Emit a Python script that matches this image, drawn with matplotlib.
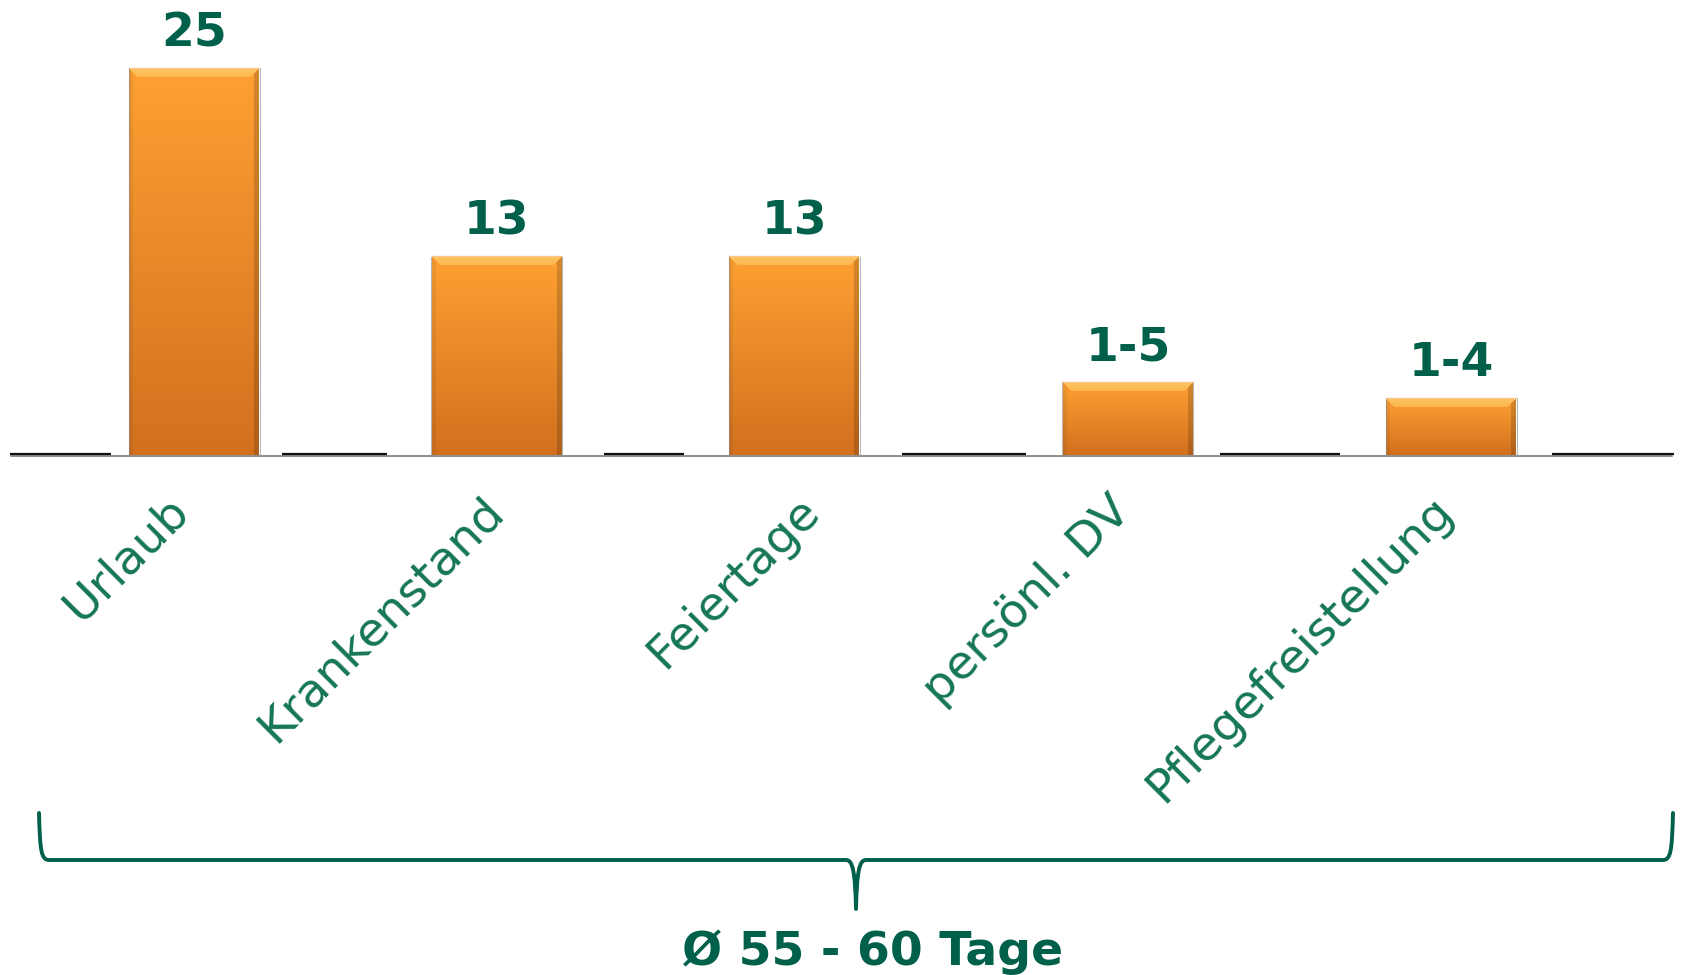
import matplotlib
matplotlib.use('Agg')
import matplotlib.pyplot as plt
import numpy as np
from matplotlib.path import Path
from matplotlib.patches import PathPatch
from matplotlib.colors import to_rgb

# ---------------- data ----------------
categories = ['Urlaub', 'Krankenstand', 'Feiertage', 'persönl. DV', 'Pflegefreistellung']
values = [25, 13, 13, 5, 4]
value_labels = ['25', '13', '13', '1-5', '1-4']
total_label = 'Ø 55 - 60 Tage'

# ---------------- layout ----------------
W, H = 1683, 975
DPI = 100
bar_x = [194.5, 496.7, 794.5, 1128, 1451.5]   # bar centres (px)
label_x = [166, 481, 797, 1108, 1430]         # rotated label anchors (px)
bar_w = 130
base_px = 455
px_per_unit = 15.7
y_min = 0.37
y_max = y_min + base_px / px_per_unit

GREEN_DARK = '#00604A'
GREEN_CAT = '#157656'

fig = plt.figure(figsize=(W / DPI, H / DPI), dpi=DPI)
fig.patch.set_facecolor('white')

ax = fig.add_axes([0, (H - base_px) / H, 1, base_px / H])
ax.axis('off')

bars = ax.bar(bar_x, values, width=bar_w, bottom=0, color='none', edgecolor='none')

top_c = np.array(to_rgb('#FFA033'))
bot_c = np.array(to_rgb('#D2701E'))
hi_c = np.array(to_rgb('#FFCF6E'))

for rect, v in zip(bars, values):
    x0 = rect.get_x()
    x1 = x0 + rect.get_width()
    y1 = rect.get_height()
    hp = int(round((y1 - y_min) * px_per_unit))
    wp = int(round(bar_w))
    r = np.arange(hp)[:, None] * np.ones((1, wp))
    c = np.ones((hp, 1)) * np.arange(wp)[None, :]
    t = (r / max(hp - 1, 1))[..., None]
    img = top_c * (1 - t) + bot_c * t
    dl = c
    dr = wp - 1 - c
    dt = r
    b = 9
    top_bev = (dt < b) & (dt <= dl) & (dt <= dr)
    amt = (0.75 - 0.25 * dt / b)[..., None]
    img = np.where(top_bev[..., None], img * (1 - amt) + hi_c * amt, img)
    right_bev = (dr < 5) & (dr < dt)
    img = np.where(right_bev[..., None], img * 0.84, img)
    left_bev = (dl < 4) & (dl < dt)
    img = np.where(left_bev[..., None], img * 0.94, img)
    ax.imshow(np.clip(img, 0, 1), extent=(x0, x1, y_min, y1), aspect='auto',
              origin='upper', zorder=2, interpolation='bilinear')
    ax.plot([x0 - 0.5, x0 - 0.5], [y_min, y1], color='#888888', lw=0.8, alpha=0.6, zorder=3)
    ax.plot([x1 + 0.5, x1 + 0.5], [y_min, y1], color='#888888', lw=0.8, alpha=0.6, zorder=3)
    ax.plot([x0, x1], [y1 + 0.03, y1 + 0.03], color='#F5C9A0', lw=1.0, alpha=0.7, zorder=3)

for x, v, lab in zip(bar_x, values, value_labels):
    ax.annotate(lab, xy=(x, v), xytext=(0, 22 * 72 / DPI), textcoords='offset points',
                ha='center', va='baseline', fontsize=34, fontweight='bold',
                color=GREEN_DARK, family='DejaVu Sans', zorder=5)

ax.set_xlim(0, W)
ax.set_ylim(y_min, y_max)

# ---------------- overlay in pixel coords ----------------
ov = fig.add_axes([0, 0, 1, 1])
ov.set_xlim(0, W)
ov.set_ylim(H, 0)
ov.axis('off')
ov.patch.set_visible(False)

# baseline
ov.plot([11, 1672], [455.5, 455.5], color='#707070', lw=1.1, zorder=1)
for a, bb in [(10, 111), (282, 387), (604, 684), (902, 1026), (1220, 1340), (1552, 1674)]:
    ov.plot([a, bb], [454.3, 454.3], color='#111111', lw=1.6, zorder=1, solid_capstyle='butt')

# category labels
for x, cat in zip(label_x, categories):
    ov.text(x, 488, cat, rotation=45, ha='right', va='top', rotation_mode='anchor',
            fontsize=34, color=GREEN_CAT, family='DejaVu Sans')

# brace
verts = [(39, 813), (40, 850), (41, 860), (49, 860),
         (846, 860),
         (853, 860), (855, 872), (856, 909),
         (857, 872), (859, 860), (866, 860),
         (1663, 860),
         (1671, 860), (1672, 850), (1673, 813)]
codes = [Path.MOVETO, Path.CURVE4, Path.CURVE4, Path.CURVE4,
         Path.LINETO,
         Path.CURVE4, Path.CURVE4, Path.CURVE4,
         Path.CURVE4, Path.CURVE4, Path.CURVE4,
         Path.LINETO,
         Path.CURVE4, Path.CURVE4, Path.CURVE4]
ov.add_patch(PathPatch(Path(verts, codes), facecolor='none', edgecolor=GREEN_DARK,
                       lw=2.8, capstyle='round', joinstyle='round'))

ov.text(873, 965, total_label, ha='center', va='baseline', fontsize=34,
        fontweight='bold', color=GREEN_DARK, family='DejaVu Sans')

fig.savefig('out.png', dpi=DPI, facecolor='white')
